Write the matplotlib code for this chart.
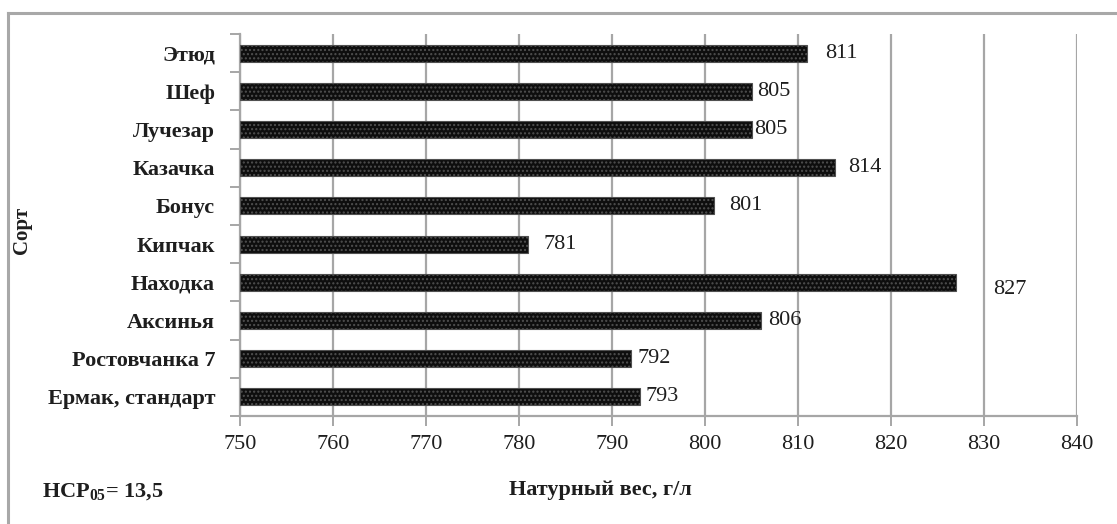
import matplotlib.pyplot as plt
from matplotlib.lines import Line2D

plt.rcParams["font.family"] = ["Liberation Serif", "DejaVu Serif"]
plt.rcParams["mathtext.fontset"] = "custom"
plt.rcParams["mathtext.rm"] = "Liberation Serif:bold"
plt.rcParams["hatch.linewidth"] = 1.0

# сорта (снизу вверх) и натурный вес, г/л
varieties = ["Ермак, стандарт", "Ростовчанка 7", "Аксинья", "Находка", "Кипчак",
             "Бонус", "Казачка", "Лучезар", "Шеф", "Этюд"]
weight = [793, 792, 806, 827, 781, 801, 814, 805, 805, 811]
x_ticks = [750, 760, 770, 780, 790, 800, 810, 820, 830, 840]

# сдвиг подписей значений (pt) — подписи двигались вручную
label_dx = [4, 5, 5, 27, 11, 11, 9, 2, 4, 13]
label_dy = [0, 0, 0, -5, 0, 0, 0, 0, 0, 0]

fig = plt.figure(figsize=(11.17, 5.24), dpi=100)
ax = fig.add_axes([240 / 1117, 1 - 416 / 524, (1077 - 240) / 1117, (416 - 34) / 524])

grid_c = "#a6a6a6"
txt_c = "#1e1e1e"
y = list(range(len(varieties)))
ax.barh(y, [w - 750 for w in weight], left=750, height=0.45,
        color="#0e0e0e", edgecolor="#505050", hatch="....", linewidth=0.8, zorder=3)

for yi, w, dx, dy in zip(y, weight, label_dx, label_dy):
    ax.annotate(str(w), (w, yi), xytext=(dx, dy), textcoords="offset points",
                ha="left", va="center", fontsize=16, color=txt_c, zorder=4)

ax.set_xlim(750, 840)
ax.set_ylim(-0.5, len(varieties) - 0.5)
ax.set_xticks(x_ticks)
ax.set_xticklabels([str(t) for t in x_ticks], fontsize=16, color=txt_c)
ax.xaxis.grid(True, color=grid_c, linewidth=1.6, zorder=0)

# подписи сортов по центру категорий, деления — по границам
ax.set_yticks(y)
ax.set_yticklabels(varieties, fontsize=16, fontweight="bold", color=txt_c)
ax.tick_params(axis="y", length=0, pad=18)
ax.set_yticks([i - 0.5 for i in range(len(varieties) + 1)], minor=True)
ax.tick_params(axis="y", which="minor", length=7, width=1.4, color=grid_c)
ax.tick_params(axis="x", length=7, width=1.4, color=grid_c, pad=7)

for side in ["top", "right"]:
    ax.spines[side].set_visible(False)
for side in ["left", "bottom"]:
    ax.spines[side].set_color(grid_c)
    ax.spines[side].set_linewidth(1.6)

fig.text(22 / 1117, 1 - 230 / 524, "Сорт", rotation=90, ha="center", va="center",
         fontsize=15, fontweight="bold", color=txt_c)
fig.text(600 / 1117, 1 - 490 / 524, "Натурный вес, г/л", ha="center", va="center",
         fontsize=16, fontweight="bold", color=txt_c)
fig.text(42 / 1117, 1 - 492 / 524, r"НСР$_{05}$= 13,5", ha="left", va="center",
         fontsize=16, fontweight="bold", color=txt_c)

# рамка области диаграммы
fig.add_artist(Line2D([8 / 1117, 1], [1 - 13 / 524] * 2, color="#a8a8a8", linewidth=2.2,
                      transform=fig.transFigure))
fig.add_artist(Line2D([8 / 1117] * 2, [0, 1 - 13 / 524], color="#a8a8a8", linewidth=2.2,
                      transform=fig.transFigure))

fig.savefig("out.png", dpi=100)
